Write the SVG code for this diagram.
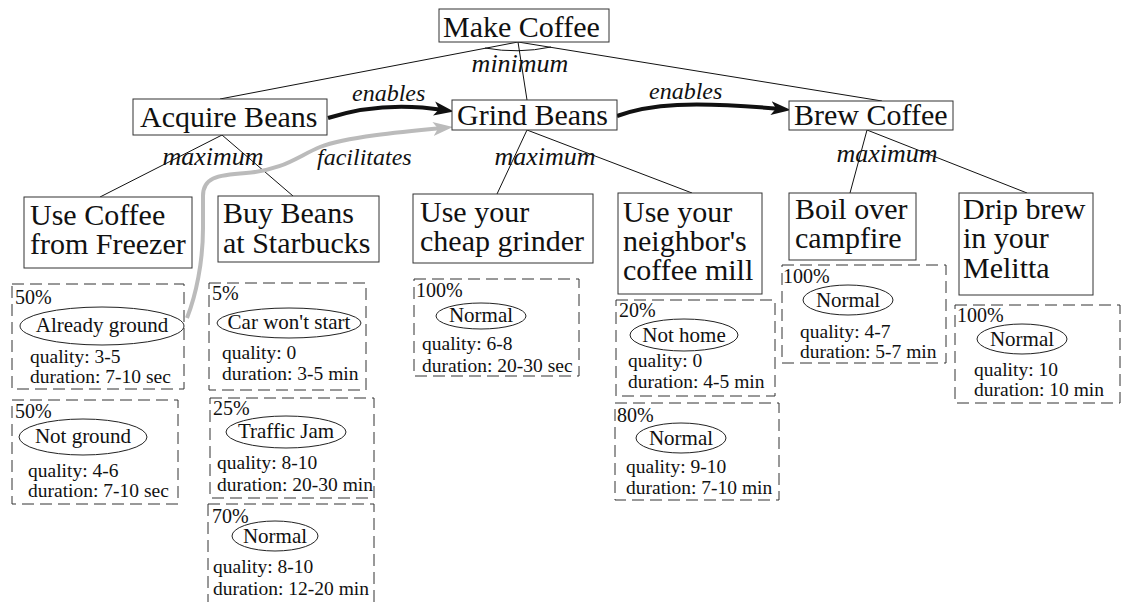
<svg xmlns="http://www.w3.org/2000/svg" width="1122" height="602" viewBox="0 0 1122 602">
<style>
.bg{fill:#fff}
.box{fill:#fff;stroke:#333;stroke-width:1}
text{font-family:"Liberation Serif","Times New Roman",Times,"DejaVu Serif",serif;fill:#111}
.big{font-size:30px}
.lbl{font-size:24px;font-style:italic}
.lbl2{font-size:26px;font-style:italic}
.dash{fill:none;stroke:#333;stroke-width:1;stroke-dasharray:12 6}
.pct{font-size:20px}
.ell{fill:#fff;stroke:#222;stroke-width:1}
.et{font-size:21px;text-anchor:middle}
.q{font-size:19.5px}
.tree{fill:none;stroke:#111;stroke-width:1}
.en{fill:none;stroke:#111;stroke-width:4}
.fa{fill:none;stroke:#bbb;stroke-width:4}
</style>
<defs>
<marker id="ab" markerUnits="userSpaceOnUse" markerWidth="24" markerHeight="16" viewBox="0 -8 24 16" refX="10" refY="0" orient="auto">
<path d="M0,-7 L20,0 L0,7 L5,0 z" fill="#111"/>
</marker>
<marker id="ag" markerUnits="userSpaceOnUse" markerWidth="24" markerHeight="16" viewBox="0 -8 24 16" refX="10" refY="0" orient="auto">
<path d="M0,-7 L20,0 L0,7 L5,0 z" fill="#bbb"/>
</marker>
</defs>
<rect class="bg" x="0" y="0" width="1122" height="602"/>
<g id="connectors">
<path class="tree" d="M518,42 L220,99 M518,42 L527,100 M518,42 L882,101"/>
<path class="tree" d="M485,48 Q518,54 551,47"/>
<path class="tree" d="M222,135 L100,197 M222,135 L293,196"/>
<path class="tree" d="M527,130 L497,194 M527,130 L692,193"/>
<path class="tree" d="M867,130 L850,193 M867,130 L1027,193"/>
<path class="en" d="M328,118 C365,106 405,104 444,110" marker-end="url(#ab)"/>
<path class="en" d="M617,116 C650,104 690,101 781,109" marker-end="url(#ab)"/>
<path class="fa" d="M187,318 C196,295 203,262 203,228 L203,196 C203,178 216,175 246,173 C284,170 298,156 320,147 C346,137 400,132 443,128" marker-end="url(#ag)"/>
<text class="lbl" x="352" y="101" font-family="Liberation Serif, serif">enables</text>
<text class="lbl" x="649" y="99" font-family="Liberation Serif, serif">enables</text>
<text class="lbl" x="317" y="165" font-family="Liberation Serif, serif">facilitates</text>
<text class="lbl2" x="520" y="72" text-anchor="middle" font-family="Liberation Serif, serif">minimum</text>
<text class="lbl2" x="213" y="165" text-anchor="middle" font-family="Liberation Serif, serif">maximum</text>
<text class="lbl2" x="545" y="165" text-anchor="middle" font-family="Liberation Serif, serif">maximum</text>
<text class="lbl2" x="887" y="162" text-anchor="middle" font-family="Liberation Serif, serif">maximum</text>
</g>
<g id="make-coffee"><rect class="box" x="439" y="9" width="170" height="33"/><text class="big" x="443" y="37">Make Coffee</text></g>
<g id="acquire-beans"><rect class="box" x="133" y="99" width="194" height="36"/><text class="big" x="140" y="127">Acquire Beans</text></g>
<g id="grind-beans"><rect class="box" x="452" y="100" width="165" height="30"/><text class="big" x="457" y="125">Grind Beans</text></g>
<g id="brew-coffee"><rect class="box" x="789" y="101" width="164" height="29"/><text class="big" x="794" y="125">Brew Coffee</text></g>
<g id="use-freezer"><rect class="box" x="24" y="197" width="168" height="71"/><text class="big" x="30" y="225">Use Coffee</text><text class="big" x="30" y="254">from Freezer</text></g>
<g id="buy-starbucks"><rect class="box" x="218" y="196" width="161" height="66"/><text class="big" x="223" y="223">Buy Beans</text><text class="big" x="223" y="253">at Starbucks</text></g>
<g id="cheap-grinder"><rect class="box" x="413" y="194" width="180" height="69"/><text class="big" x="420" y="222">Use your</text><text class="big" x="420" y="251">cheap grinder</text></g>
<g id="neighbor-mill"><rect class="box" x="618" y="193" width="144" height="101"/><text class="big" x="623" y="222">Use your</text><text class="big" x="623" y="251">neighbor's</text><text class="big" x="623" y="280">coffee mill</text></g>
<g id="boil-campfire"><rect class="box" x="789" y="193" width="127" height="67"/><text class="big" x="795" y="219">Boil over</text><text class="big" x="795" y="248">campfire</text></g>
<g id="drip-melitta"><rect class="box" x="959" y="193" width="134" height="102"/><text class="big" x="963" y="219">Drip brew</text><text class="big" x="963" y="248">in your</text><text class="big" x="963" y="278">Melitta</text></g>
<g id="out-a1"><rect class="dash" x="12" y="284" width="172" height="105"/><text class="pct" x="15" y="304">50%</text><ellipse class="ell" cx="102" cy="326" rx="82" ry="19"/><text class="et" x="102" y="332">Already ground</text><text class="q" x="30" y="363">quality: 3-5</text><text class="q" x="30" y="383">duration: 7-10 sec</text></g>
<g id="out-a2"><rect class="dash" x="12" y="400" width="166" height="104"/><text class="pct" x="15" y="418">50%</text><ellipse class="ell" cx="83" cy="437" rx="64" ry="18"/><text class="et" x="83" y="443">Not ground</text><text class="q" x="28" y="477">quality: 4-6</text><text class="q" x="28" y="497">duration: 7-10 sec</text></g>
<g id="out-b1"><rect class="dash" x="209" y="283" width="157" height="107"/><text class="pct" x="212" y="300">5%</text><ellipse class="ell" cx="289" cy="323" rx="72" ry="15"/><text class="et" x="289" y="329">Car won't start</text><text class="q" x="222" y="359">quality: 0</text><text class="q" x="222" y="380">duration: 3-5 min</text></g>
<g id="out-b2"><rect class="dash" x="210" y="398" width="164" height="100"/><text class="pct" x="213" y="415">25%</text><ellipse class="ell" cx="286" cy="432" rx="60" ry="16"/><text class="et" x="286" y="438">Traffic Jam</text><text class="q" x="217" y="469">quality: 8-10</text><text class="q" x="217" y="491">duration: 20-30 min</text></g>
<g id="out-b3"><rect class="dash" x="208" y="504" width="166" height="110"/><text class="pct" x="212" y="523">70%</text><ellipse class="ell" cx="275" cy="536" rx="43" ry="15"/><text class="et" x="275" y="543">Normal</text><text class="q" x="213" y="573">quality: 8-10</text><text class="q" x="213" y="595">duration: 12-20 min</text></g>
<g id="out-c1"><rect class="dash" x="414" y="279" width="165" height="97"/><text class="pct" x="416" y="297">100%</text><ellipse class="ell" cx="481" cy="316" rx="45" ry="13"/><text class="et" x="481" y="322">Normal</text><text class="q" x="422" y="350">quality: 6-8</text><text class="q" x="422" y="372">duration: 20-30 sec</text></g>
<g id="out-d1"><rect class="dash" x="616" y="300" width="159" height="96"/><text class="pct" x="619" y="317">20%</text><ellipse class="ell" cx="684" cy="335" rx="54" ry="16"/><text class="et" x="684" y="342">Not home</text><text class="q" x="628" y="367">quality: 0</text><text class="q" x="628" y="388">duration: 4-5 min</text></g>
<g id="out-d2"><rect class="dash" x="615" y="403" width="164" height="97"/><text class="pct" x="617" y="422">80%</text><ellipse class="ell" cx="681" cy="438" rx="45" ry="15"/><text class="et" x="681" y="445">Normal</text><text class="q" x="626" y="473">quality: 9-10</text><text class="q" x="626" y="494">duration: 7-10 min</text></g>
<g id="out-e1"><rect class="dash" x="782" y="265" width="164" height="98"/><text class="pct" x="783" y="283">100%</text><ellipse class="ell" cx="848" cy="300" rx="45" ry="15"/><text class="et" x="848" y="307">Normal</text><text class="q" x="800" y="338">quality: 4-7</text><text class="q" x="800" y="358">duration: 5-7 min</text></g>
<g id="out-f1"><rect class="dash" x="955" y="305" width="165" height="98"/><text class="pct" x="957" y="322">100%</text><ellipse class="ell" cx="1022" cy="339" rx="45" ry="15"/><text class="et" x="1022" y="346">Normal</text><text class="q" x="974" y="376">quality: 10</text><text class="q" x="974" y="396">duration: 10 min</text></g>
</svg>
